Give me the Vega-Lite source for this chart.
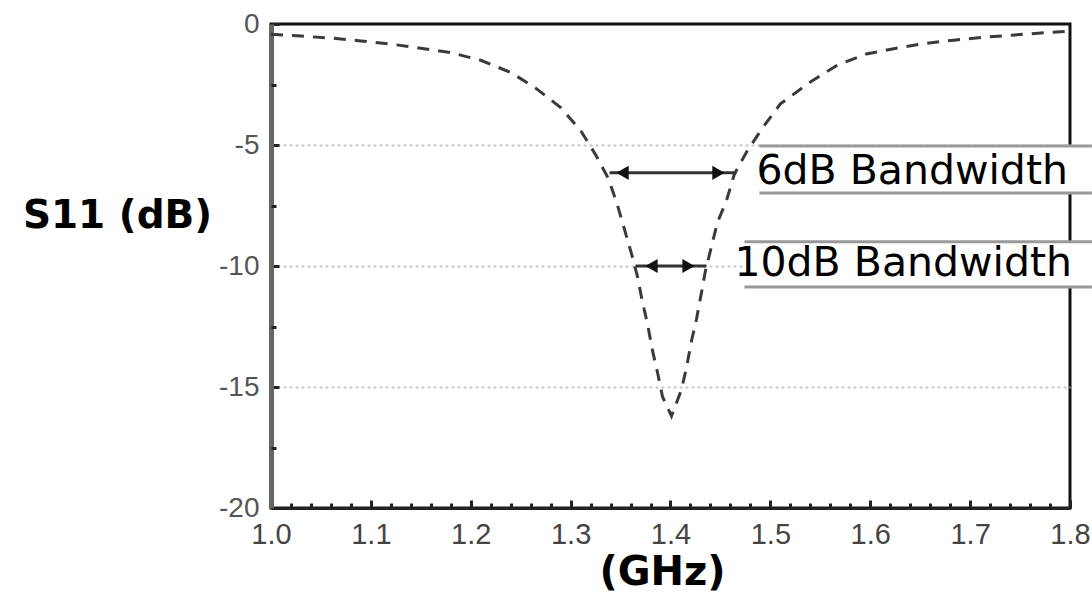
{
  "$schema": "https://vega.github.io/schema/vega-lite/v6.json",
  "width": 799,
  "height": 484,
  "autosize": {"type": "none"},
  "padding": {"left": 271, "top": 24, "right": 22, "bottom": 86},
  "background": "white",
  "config": {
    "view": {"stroke": "#111", "strokeWidth": 3},
    "axis": {"labelFont": "Liberation Sans", "titleFont": "DejaVu Sans"}
  },
  "datasets": {
    "curve": [
      {"f": 1.0, "s": -0.42}, {"f": 1.03, "s": -0.5}, {"f": 1.06, "s": -0.58}, {"f": 1.09, "s": -0.7},
      {"f": 1.12, "s": -0.83}, {"f": 1.15, "s": -1.0}, {"f": 1.18, "s": -1.18}, {"f": 1.21, "s": -1.5},
      {"f": 1.24, "s": -2.0}, {"f": 1.265, "s": -2.65}, {"f": 1.29, "s": -3.45}, {"f": 1.31, "s": -4.4},
      {"f": 1.325, "s": -5.4}, {"f": 1.338, "s": -6.4}, {"f": 1.347, "s": -7.5}, {"f": 1.354, "s": -8.5},
      {"f": 1.361, "s": -9.5}, {"f": 1.367, "s": -10.45}, {"f": 1.372, "s": -11.5}, {"f": 1.377, "s": -12.4},
      {"f": 1.382, "s": -13.5}, {"f": 1.387, "s": -14.4}, {"f": 1.392, "s": -15.4}, {"f": 1.401, "s": -16.2},
      {"f": 1.411, "s": -15.1}, {"f": 1.416, "s": -14.2}, {"f": 1.421, "s": -13.1}, {"f": 1.426, "s": -12.2},
      {"f": 1.431, "s": -11.1}, {"f": 1.435, "s": -10.2}, {"f": 1.441, "s": -9.2}, {"f": 1.447, "s": -8.2},
      {"f": 1.456, "s": -7.3}, {"f": 1.464, "s": -6.2}, {"f": 1.476, "s": -5.3}, {"f": 1.492, "s": -4.3},
      {"f": 1.51, "s": -3.3}, {"f": 1.54, "s": -2.4}, {"f": 1.567, "s": -1.7}, {"f": 1.596, "s": -1.24},
      {"f": 1.626, "s": -1.0}, {"f": 1.655, "s": -0.8}, {"f": 1.686, "s": -0.66}, {"f": 1.716, "s": -0.54},
      {"f": 1.745, "s": -0.45}, {"f": 1.771, "s": -0.37}, {"f": 1.8, "s": -0.3}
    ],
    "arrows": [
      {"x1": 1.339, "x2": 1.466, "y": -6.15},
      {"x1": 1.365, "x2": 1.436, "y": -10.0}
    ],
    "heads": [
      {"x": 1.352, "y": -6.15, "dir": "left"},
      {"x": 1.448, "y": -6.15, "dir": "right"},
      {"x": 1.381, "y": -10.0, "dir": "left"},
      {"x": 1.418, "y": -10.0, "dir": "right"}
    ],
    "boxes": [
      {"x1": 1.489, "x2": 1.822, "top": -5.04, "bottom": -6.98},
      {"x1": 1.474, "x2": 1.822, "top": -9.0, "bottom": -10.87}
    ],
    "labels": [
      {"x": 1.486, "y": -6.1, "text": "6dB Bandwidth"},
      {"x": 1.464, "y": -9.9, "text": "10dB Bandwidth"}
    ]
  },
  "resolve": {"axis": {"x": "independent", "y": "independent"}},
  "layer": [
    {
      "data": {"name": "curve"},
      "mark": {"type": "line", "color": "#3a3a3a", "strokeWidth": 3, "strokeDash": [12, 9]},
      "encoding": {
        "x": {
          "field": "f", "type": "quantitative",
          "scale": {"domain": [1.0, 1.8], "nice": false, "zero": false},
          "axis": {
            "orient": "bottom",
            "values": [1.0, 1.1, 1.2, 1.3, 1.4, 1.5, 1.6, 1.7, 1.8],
            "format": ".1f",
            "labelFontSize": 29, "labelColor": "#444", "labelPadding": 20,
            "labelFlush": false,
            "tickSize": -8, "tickWidth": 3, "tickColor": "#222",
            "domainColor": "#222", "domainWidth": 3,
            "grid": false,
            "title": "(GHz)", "titleFontSize": 40, "titleFontWeight": "bold", "titleColor": "#000",
            "titleX": 391, "titleY": 64, "titleAlign": "center", "titleBaseline": "middle"
          }
        },
        "y": {
          "field": "s", "type": "quantitative",
          "scale": {"domain": [-20, 0], "nice": false, "zero": false},
          "axis": {
            "orient": "left",
            "values": [0, -5, -10, -15, -20],
            "labelExpr": "'' + datum.value",
            "labelFontSize": 28, "labelColor": "#555", "labelPadding": 20,
            "labelFlush": false,
            "tickSize": -8, "tickWidth": 3, "tickColor": "#222",
            "domainColor": "#666", "domainWidth": 5,
            "grid": true, "gridColor": "#c8c8c8", "gridWidth": 2, "gridDash": [3, 3],
            "gridOpacity": {"condition": {"test": "datum.value == 0 || datum.value == -20", "value": 0}, "value": 1},
            "title": "S11 (dB)", "titleFontSize": 39, "titleFontWeight": "bold", "titleColor": "#000",
            "titleAngle": 0, "titleX": -154, "titleY": 191, "titleAlign": "center", "titleBaseline": "middle"
          }
        }
      }
    },
    {
      "data": {"name": "boxes"},
      "mark": {"type": "rect", "fill": "white", "stroke": null},
      "encoding": {
        "x": {"field": "x1", "type": "quantitative", "axis": {
          "orient": "bottom",
          "values": [1.02, 1.04, 1.06, 1.08, 1.12, 1.14, 1.16, 1.18, 1.22, 1.24, 1.26, 1.28, 1.32, 1.34, 1.36, 1.38, 1.42, 1.44, 1.46, 1.48, 1.52, 1.54, 1.56, 1.58, 1.62, 1.64, 1.66, 1.68, 1.72, 1.74, 1.76, 1.78],
          "labels": false, "domain": false, "grid": false, "title": null,
          "tickSize": -5, "tickWidth": 3, "tickColor": "#222"
        }},
        "x2": {"field": "x2"},
        "y": {"field": "top", "type": "quantitative", "axis": {
          "orient": "left",
          "values": [-2.5, -7.5, -12.5, -17.5],
          "labels": false, "domain": false, "grid": false, "title": null,
          "tickSize": -5, "tickWidth": 3, "tickColor": "#222"
        }},
        "y2": {"field": "bottom"}
      }
    },
    {
      "data": {"name": "boxes"},
      "mark": {"type": "rule", "color": "#999", "strokeWidth": 3},
      "encoding": {
        "x": {"field": "x1", "type": "quantitative", "axis": null},
        "x2": {"field": "x2"},
        "y": {"field": "top", "type": "quantitative", "axis": null}
      }
    },
    {
      "data": {"name": "boxes"},
      "mark": {"type": "rule", "color": "#999", "strokeWidth": 3},
      "encoding": {
        "x": {"field": "x1", "type": "quantitative", "axis": null},
        "x2": {"field": "x2"},
        "y": {"field": "bottom", "type": "quantitative", "axis": null}
      }
    },
    {
      "data": {"name": "labels"},
      "mark": {"type": "text", "font": "DejaVu Sans", "fontSize": 41, "align": "left", "baseline": "middle", "color": "#000"},
      "encoding": {
        "x": {"field": "x", "type": "quantitative", "axis": null},
        "y": {"field": "y", "type": "quantitative", "axis": null},
        "text": {"field": "text"}
      }
    },
    {
      "data": {"name": "arrows"},
      "mark": {"type": "rule", "color": "#333", "strokeWidth": 3},
      "encoding": {
        "x": {"field": "x1", "type": "quantitative", "axis": null},
        "x2": {"field": "x2"},
        "y": {"field": "y", "type": "quantitative", "axis": null}
      }
    },
    {
      "data": {"name": "heads"},
      "mark": {"type": "point", "filled": true, "color": "#111", "size": 200, "opacity": 1},
      "encoding": {
        "x": {"field": "x", "type": "quantitative", "axis": null},
        "y": {"field": "y", "type": "quantitative", "axis": null},
        "shape": {"field": "dir", "type": "nominal", "scale": {"domain": ["left", "right"], "range": ["triangle-left", "triangle-right"]}, "legend": null}
      }
    }
  ]
}
